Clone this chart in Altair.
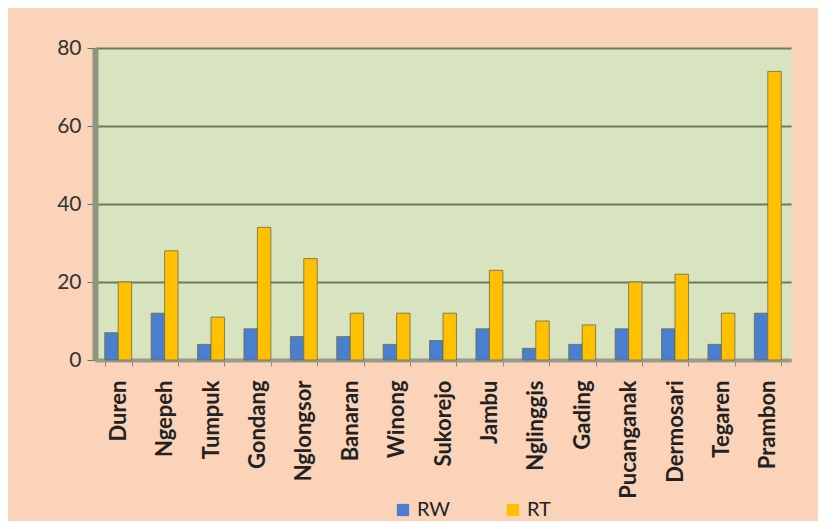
import altair as alt
import pandas as pd

categories = ["Duren", "Ngepeh", "Tumpuk", "Gondang", "Nglongsor", "Banaran", "Winong",
              "Sukorejo", "Jambu", "Nglinggis", "Gading", "Pucanganak", "Dermosari",
              "Tegaren", "Prambon"]
rw = [7, 12, 4, 8, 6, 6, 4, 5, 8, 3, 4, 8, 8, 4, 12]
rt = [20, 28, 11, 34, 26, 12, 12, 12, 23, 10, 9, 20, 22, 12, 74]
series = ["RW", "RT"]
colors = ["#4A7FCF", "#FFC000"]

rows = []
for c, a, b in zip(categories, rw, rt):
    rows.append({"Desa": c, "Seri": "RW", "Jumlah": a})
    rows.append({"Desa": c, "Seri": "RT", "Jumlah": b})
df = pd.DataFrame(rows)

chart = alt.Chart(df).mark_bar(stroke="#6b6b4a", strokeWidth=0.8).encode(
    x=alt.X("Desa:N", sort=categories, title=None,
            scale=alt.Scale(paddingInner=0.42, paddingOuter=0.21),
            axis=alt.Axis(labelAngle=270, labelFontSize=22, labelFontWeight="bold",
                          labelFont="Lato", labelColor="#222", labelPadding=14,
                          tickBand="extent", tickColor="#8a8a7a", tickSize=6,
                          domainColor="#9a9a8c", domainWidth=4)),
    xOffset=alt.XOffset("Seri:N", sort=series, scale=alt.Scale(paddingInner=0)),
    y=alt.Y("Jumlah:Q", title=None,
            scale=alt.Scale(domain=[0, 80], nice=False),
            axis=alt.Axis(values=[0, 20, 40, 60, 80], labelFontSize=21, labelFont="Lato",
                          labelColor="#333", gridColor="#6f7a5c", gridWidth=2,
                          domainColor="#8e9682", domainWidth=6, tickColor="#6f6f6f",
                          tickSize=8, labelPadding=6)),
    color=alt.Color("Seri:N", sort=series,
                    scale=alt.Scale(domain=series, range=colors),
                    legend=alt.Legend(title=None, orient="none", direction="horizontal",
                                      legendX=298, legendY=452, symbolType="square",
                                      symbolSize=150, symbolStrokeWidth=0,
                                      labelFontSize=20, labelFont="Lato",
                                      labelColor="#222", columnPadding=52)),
).properties(
    width=696, height=312,
    background="#FBD3B9",
    padding={"left": 87, "top": 40, "right": 27, "bottom": 161},
    autosize=alt.AutoSizeParams(type="none"),
).configure_view(fill="#D8E4BF", stroke="transparent")

chart.save("out.html", embed_options={"renderer": "svg", "actions": False})
